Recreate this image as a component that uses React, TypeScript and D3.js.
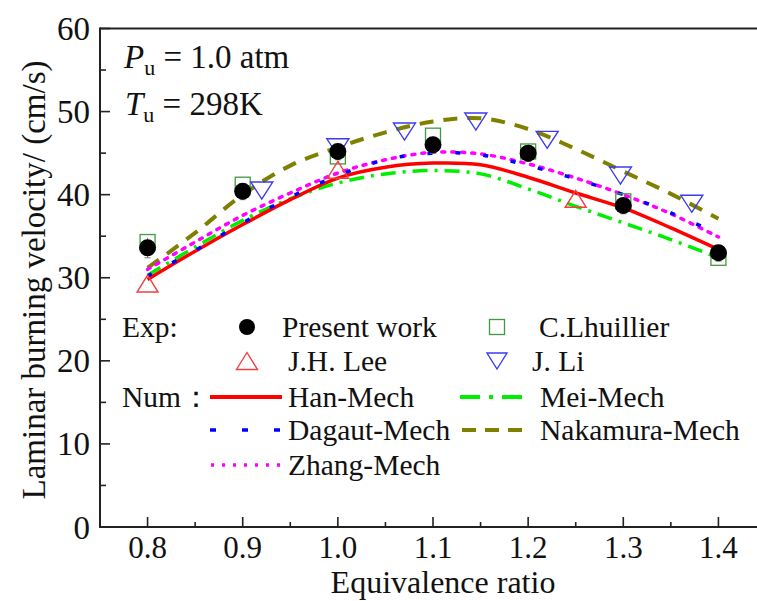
import React from "react";
import * as d3 from "d3";

const presentX = [0.8, 0.9, 1.0, 1.1, 1.2, 1.3, 1.4];
const presentY = [33.6, 40.4, 45.2, 46.0, 45.0, 38.7, 33.0];
const presentErr = [1.2, 1.0, 1.0, 1.0, 1.0, 1.0, 1.0];
const lhuillierX = [0.8, 0.9, 1.0, 1.1, 1.2, 1.3, 1.4];
const lhuillierY = [34.3, 41.2, 44.6, 47.1, 45.2, 39.2, 32.4];
const leeX = [0.8, 1.0, 1.25];
const leeY = [29.3, 43.0, 39.5];
const liX = [0.92, 1.0, 1.07, 1.145, 1.22, 1.297, 1.372];
const liY = [40.5, 45.7, 47.6, 48.8, 46.6, 42.3, 38.9];

const mechX = [0.8, 0.85, 0.9, 0.95, 1.0, 1.05, 1.1, 1.15, 1.2, 1.25, 1.3, 1.35, 1.4];
const hanY = [29.8, 33.2, 36.4, 39.4, 42.0, 43.3, 43.8, 43.6, 42.1, 40.2, 38.4, 36.0, 33.4];
const meiY = [30.3, 33.7, 36.9, 39.5, 41.4, 42.5, 42.9, 42.5, 40.7, 38.6, 36.6, 34.6, 32.4];
const dagautY = [30.2, 33.3, 36.6, 39.7, 42.3, 44.2, 45.0, 44.8, 43.5, 41.9, 40.0, 37.8, 35.3];
const nakamuraY = [31.2, 35.4, 40.0, 43.5, 45.7, 47.5, 48.8, 49.2, 47.9, 45.5, 42.8, 40.1, 37.1];
const zhangY = [31.0, 34.3, 37.5, 40.2, 42.6, 44.2, 45.1, 44.9, 43.7, 42.0, 40.0, 37.7, 34.9];

const xTicks = [0.8, 0.9, 1.0, 1.1, 1.2, 1.3, 1.4];
const xMinor = [0.75, 0.85, 0.95, 1.05, 1.15, 1.25, 1.35, 1.45];
const yTicks = [0, 10, 20, 30, 40, 50, 60];
const yMinor = [5, 15, 25, 35, 45, 55];

const FONT = '"Liberation Serif"';

export default function App() {
  const x = d3.scaleLinear().domain([0.75, 1.45]).range([100, 766]);
  const y = d3.scaleLinear().domain([0, 60]).range([527, 28.5]);
  const line = d3
    .line<[number, number]>()
    .x((d) => x(d[0]))
    .y((d) => y(d[1]))
    .curve(d3.curveCatmullRom.alpha(0.5));
  const mk = (ys: number[]) => line(mechX.map((v, i) => [v, ys[i]] as [number, number])) || "";

  const mechs = [
    { ys: meiY, color: "#00ee00", dash: "15,7,3,7", w: 3.5 },
    { ys: hanY, color: "#ff0000", dash: "", w: 3.5 },
    { ys: nakamuraY, color: "#808000", dash: "14,10", w: 4 },
    { ys: zhangY, color: "#ff00ff", dash: "3,7", w: 3.5 },
    { ys: dagautY, color: "#0000ff", dash: "5,23", w: 3.5 },
  ];

  const tri = (cx: number, cy: number, up: boolean, w: number, h: number) =>
    up
      ? `M${cx},${cy - h / 2}L${cx + w / 2},${cy + h / 2}L${cx - w / 2},${cy + h / 2}Z`
      : `M${cx},${cy + h / 2}L${cx + w / 2},${cy - h / 2}L${cx - w / 2},${cy - h / 2}Z`;

  const rows = [327, 361, 397, 430, 465];
  const lc1 = 247;
  const lc2 = 497;
  const ts = { fontFamily: FONT };

  return (
    <svg width={757} height={601} style={{ position: "absolute", left: 0, top: 0, background: "#fff" }}>
      <rect x={0} y={0} width={757} height={601} fill="#fff" />
      {mechs.map((m, i) => (
        <path
          key={i}
          d={mk(m.ys)}
          fill="none"
          stroke={m.color}
          strokeWidth={m.w}
          strokeDasharray={m.dash || undefined}
          strokeLinecap={m.dash === "3,7" ? "round" : "butt"}
        />
      ))}
      {lhuillierX.map((v, i) => (
        <rect
          key={"l" + i}
          x={x(v) - 7.5}
          y={y(lhuillierY[i]) - 7.5}
          width={15}
          height={15}
          fill="none"
          stroke="#3f9b3f"
          strokeWidth={1.3}
        />
      ))}
      {liX.map((v, i) => (
        <path key={"j" + i} d={tri(x(v), y(liY[i]), false, 22, 17)} fill="none" stroke="#3b3bf0" strokeWidth={1.4} />
      ))}
      {presentX.map((v, i) => (
        <g key={"p" + i}>
          <line
            x1={x(v)}
            x2={x(v)}
            y1={y(presentY[i] - presentErr[i])}
            y2={y(presentY[i] + presentErr[i])}
            stroke="#777"
            strokeWidth={1}
          />
          <line x1={x(v) - 3} x2={x(v) + 3} y1={y(presentY[i] - presentErr[i])} y2={y(presentY[i] - presentErr[i])} stroke="#777" strokeWidth={1} />
          <circle cx={x(v)} cy={y(presentY[i])} r={8.5} fill="#000" />
        </g>
      ))}
      {leeX.map((v, i) => (
        <path key={"h" + i} d={tri(x(v), y(leeY[i]), true, 21, 17)} fill="none" stroke="#ee4040" strokeWidth={1.4} />
      ))}

      <line x1={100} x2={757} y1={28.5} y2={28.5} stroke="#222" strokeWidth={2} />
      <line x1={100} x2={100} y1={27.5} y2={528} stroke="#222" strokeWidth={2} />
      <line x1={99} x2={757} y1={527} y2={527} stroke="#222" strokeWidth={2} />
      {xTicks.map((t) => (
        <g key={"xt" + t}>
          <line x1={x(t)} x2={x(t)} y1={527} y2={517} stroke="#222" strokeWidth={1.6} />
          <text x={x(t)} y={558} textAnchor="middle" fontSize={31} fill="#111" style={ts}>
            {t.toFixed(1)}
          </text>
        </g>
      ))}
      {xMinor.map((t) => (
        <line key={"xm" + t} x1={x(t)} x2={x(t)} y1={527} y2={522} stroke="#222" strokeWidth={1.6} />
      ))}
      {yTicks.map((t) => (
        <g key={"yt" + t}>
          <line x1={100} x2={110} y1={y(t)} y2={y(t)} stroke="#222" strokeWidth={1.6} />
          <text x={90} y={y(t)} dy="0.35em" textAnchor="end" fontSize={33} fill="#111" style={ts}>
            {t}
          </text>
        </g>
      ))}
      {yMinor.map((t) => (
        <line key={"ym" + t} x1={100} x2={106} y1={y(t)} y2={y(t)} stroke="#222" strokeWidth={1.6} />
      ))}

      <text x={443} y={593} textAnchor="middle" fontSize={32} fill="#111" style={ts}>
        Equivalence ratio
      </text>
      <text transform="translate(45,280) rotate(-90)" textAnchor="middle" fontSize={33} fill="#111" style={ts}>
        Laminar burning velocity/ (cm/s)
      </text>

      <text x={124} y={68} fontSize={33} fill="#111" style={ts}>
        <tspan fontStyle="italic">P</tspan>
        <tspan fontSize={22} dy={7}>u</tspan>
        <tspan dy={-7}> = 1.0 atm</tspan>
      </text>
      <text x={125} y={115} fontSize={33} fill="#111" style={ts}>
        <tspan fontStyle="italic">T</tspan>
        <tspan fontSize={22} dy={7}>u</tspan>
        <tspan dy={-7}> = 298K</tspan>
      </text>

      <g fontSize={29.5} fill="#111">
        <text x={122} y={rows[0] + 10} style={ts}>Exp:</text>
        <circle cx={lc1} cy={rows[0]} r={8} fill="#000" />
        <text x={282} y={rows[0] + 10} style={ts}>Present work</text>
        <rect x={lc2 - 7.5} y={rows[0] - 7.5} width={15} height={15} fill="none" stroke="#3f9b3f" strokeWidth={1.3} />
        <text x={539} y={rows[0] + 10} style={ts}>C.Lhuillier</text>

        <path d={tri(lc1, rows[1], true, 21, 17)} fill="none" stroke="#ee4040" strokeWidth={1.4} />
        <text x={288} y={rows[1] + 10} style={ts}>J.H. Lee</text>
        <path d={tri(lc2, rows[1], false, 20, 16)} fill="none" stroke="#3b3bf0" strokeWidth={1.4} />
        <text x={532} y={rows[1] + 10} style={ts}>J. Li</text>

        <text x={122} y={rows[2] + 10} style={ts}>Num：</text>
        <line x1={210} x2={282} y1={rows[2]} y2={rows[2]} stroke="#ff0000" strokeWidth={4} />
        <text x={288} y={rows[2] + 10} style={ts}>Han-Mech</text>
        <line x1={460} x2={523} y1={rows[2]} y2={rows[2]} stroke="#00ee00" strokeWidth={4} strokeDasharray="20,9,4,9" />
        <text x={540} y={rows[2] + 10} style={ts}>Mei-Mech</text>

        <line x1={210} x2={284} y1={rows[3]} y2={rows[3]} stroke="#0000ff" strokeWidth={3.5} strokeDasharray="6,26" />
        <text x={288} y={rows[3] + 10} style={ts}>Dagaut-Mech</text>
        <line x1={462} x2={522} y1={rows[3]} y2={rows[3]} stroke="#808000" strokeWidth={4} strokeDasharray="14,9" />
        <text x={540} y={rows[3] + 10} style={ts}>Nakamura-Mech</text>

        <line x1={211} x2={280} y1={rows[4]} y2={rows[4]} stroke="#ff00ff" strokeWidth={3.5} strokeDasharray="3,8" />
        <text x={288} y={rows[4] + 10} style={ts}>Zhang-Mech</text>
      </g>
    </svg>
  );
}
